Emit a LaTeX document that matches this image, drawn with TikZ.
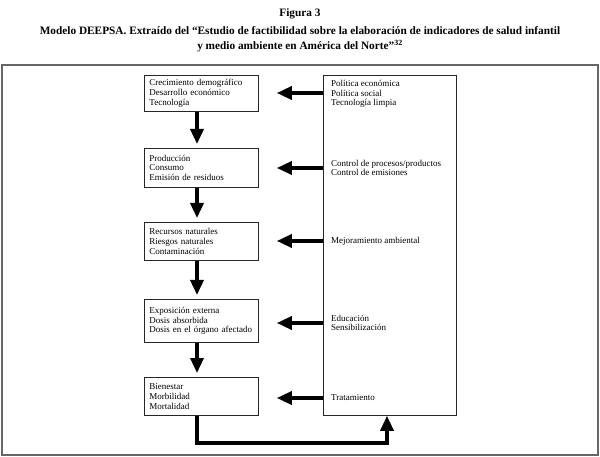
\documentclass[tikz,border=0pt]{standalone}
\usepackage{fontspec}
\setmainfont{Liberation Serif}
\usetikzlibrary{arrows.meta}
\begin{document}
\begin{tikzpicture}[x=1pt,y=-1pt,
  box/.style={draw=black!85, line width=0.8pt, anchor=north west, align=left,
    text width=104pt, inner xsep=5pt, inner ysep=3pt,
    font=\fontsize{9}{9.8}\selectfont},
  lbl/.style={anchor=west, align=left, inner sep=0pt,
    font=\fontsize{9}{9.8}\selectfont},
  arr/.style={line width=3.5pt, line join=miter, -{Triangle[width=13pt,length=15pt]}},
  ttl/.style={font=\bfseries\fontsize{11.3}{15}\selectfont, align=center}]
\useasboundingbox (0,0) rectangle (600,457);
% title
\node[ttl] (fig) at (300,14) {Figura 3};
\node[ttl] (tit) at (300,39.5) {Modelo DEEPSA. Extraído del “Estudio de factibilidad sobre la elaboración de indicadores de salud infantil\\y medio ambiente en América del Norte”\textsuperscript{32}};
% frame
\draw[draw=black!60, line width=2pt] (2,65) rectangle (598,455);
% left boxes
\node[box, minimum height=36pt] (b1) at (144,75) {Crecimiento demográfico\\Desarrollo económico\\Tecnología};
\node[box, minimum height=39pt] (b2) at (144,148) {Producción\\Consumo\\Emisión de residuos};
\node[box, minimum height=38pt] (b3) at (144,222) {Recursos naturales\\Riesgos naturales\\Contaminación};
\node[box, minimum height=43pt] (b4) at (144,299) {Exposición externa\\Dosis absorbida\\Dosis en el órgano afectado};
\node[box, minimum height=38pt] (b5) at (144,377) {Bienestar\\Morbilidad\\Mortalidad};
% right box
\node[draw=black!85, line width=0.8pt, anchor=north west, inner sep=0pt,
  minimum width=133pt, minimum height=340pt] (pol) at (323,75) {};
\node[lbl] (t1) at (331,94) {Política económica\\Política social\\Tecnología limpia};
\node[lbl] (t2) at (331,168) {Control de procesos/productos\\Control de emisiones};
\node[lbl] (t3) at (331,241) {Mejoramiento ambiental};
\node[lbl] (t4) at (331,323) {Educación\\Sensibilización};
\node[lbl] (t5) at (331,398) {Tratamiento};
% coordinates
\coordinate (ax) at (197,0);
\coordinate (cb) at (387,443);
% vertical arrows
\draw[arr, shorten >=4pt] (b1.south -| ax) -- (b2.north -| ax);
\draw[arr, shorten >=4pt] (b2.south -| ax) -- (b3.north -| ax);
\draw[arr, shorten >=4pt] (b3.south -| ax) -- (b4.north -| ax);
\draw[arr, shorten >=4pt] (b4.south -| ax) -- (b5.north -| ax);
% horizontal arrows
\draw[arr, shorten >=18pt] (pol.west |- 0,93) -- (b1.east |- 0,93);
\draw[arr, shorten >=18pt] (pol.west |- t2.west) -- (b2.east |- t2.west);
\draw[arr, shorten >=18pt] (pol.west |- t3.west) -- (b3.east |- t3.west);
\draw[arr, shorten >=18pt] (pol.west |- t4.west) -- (b4.east |- t4.west);
\draw[arr, shorten >=18pt] (pol.west |- t5.west) -- (b5.east |- t5.west);
% feedback
\draw[arr] (b5.south -| ax) |- (cb) -- (pol.south -| cb);
\end{tikzpicture}
\end{document}
